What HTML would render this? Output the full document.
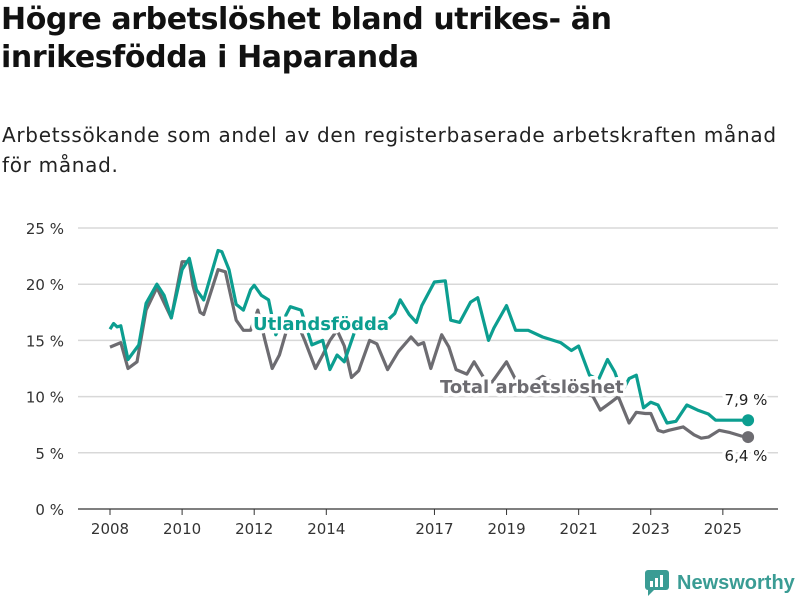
<!DOCTYPE html>
<html><head><meta charset="utf-8"><style>
body{margin:0;background:#fff;font-family:"DejaVu Sans","Liberation Sans",sans-serif;}
#wrap{position:relative;width:800px;height:600px;overflow:hidden;}
h1{position:absolute;left:1px;top:1px;margin:0;font-size:30px;line-height:38px;font-weight:bold;color:#111;width:660px;letter-spacing:-0.4px;}
.sub{position:absolute;left:2px;top:120px;font-size:20px;line-height:30px;color:#222;width:788px;letter-spacing:0.7px;}
svg{position:absolute;left:0;top:0;}
.logo{position:absolute;left:645px;top:570px;display:flex;align-items:center;color:#3a9c94;font-size:20px;font-weight:bold;font-family:"Liberation Sans",sans-serif;}
</style></head><body>
<div id="wrap">
<h1>Högre arbetslöshet bland utrikes- än inrikesfödda i Haparanda</h1>
<div class="sub">Arbetssökande som andel av den registerbaserade arbetskraften månad för månad.</div>
<svg id="chart" width="800" height="600"></svg>
<div class="logo">
<svg width="24" height="26" style="position:static;margin-right:8px"><rect x="0" y="0" width="24" height="20" rx="3" fill="#3a9c94"/><polygon points="3,20 9,20 3,26" fill="#3a9c94"/><rect x="5" y="11" width="3" height="6" fill="#fff"/><rect x="10" y="8" width="3" height="9" fill="#fff"/><rect x="15" y="5" width="3" height="12" fill="#fff"/></svg>Newsworthy</div>
</div>
<script>
const yTicks=[0,5,10,15,20,25];
const xTicks=[2008,2010,2012,2014,2017,2019,2021,2023,2025];
const fDates=[2008.0,2008.1,2008.2,2008.3,2008.5,2008.8,2009.0,2009.3,2009.5,2009.7,2010.0,2010.2,2010.4,2010.6,2010.8,2011.0,2011.1,2011.3,2011.5,2011.7,2011.9,2012.0,2012.2,2012.4,2012.6,2013.0,2013.3,2013.6,2013.9,2014.1,2014.3,2014.5,2014.8,2015.0,2015.3,2015.6,2015.9,2016.05,2016.3,2016.5,2016.65,2017.0,2017.3,2017.45,2017.7,2018.0,2018.2,2018.5,2018.65,2019.0,2019.25,2019.6,2020.0,2020.5,2020.8,2021.0,2021.3,2021.55,2021.8,2022.0,2022.2,2022.4,2022.6,2022.8,2023.0,2023.2,2023.45,2023.7,2024.0,2024.3,2024.6,2024.8,2025.0,2025.3,2025.6,2025.7];
const fVals=[16.0,16.5,16.2,16.3,13.3,14.6,18.3,20.0,19.0,17.0,21.3,22.3,19.5,18.6,20.8,23.0,22.9,21.3,18.2,17.7,19.5,19.9,19.0,18.6,15.5,18.0,17.7,14.6,15.0,12.4,13.7,13.1,15.9,17.0,16.0,16.5,17.4,18.6,17.3,16.6,18.1,20.2,20.3,16.8,16.6,18.4,18.8,15.0,16.1,18.1,15.9,15.9,15.3,14.8,14.1,14.5,11.9,11.5,13.3,12.2,10.4,11.6,11.9,9.0,9.5,9.25,7.65,7.8,9.25,8.8,8.45,7.9,7.9,7.9,7.9,7.9];
const tDates=[2008.0,2008.3,2008.5,2008.75,2009.0,2009.3,2009.7,2010.0,2010.2,2010.3,2010.5,2010.6,2011.0,2011.2,2011.5,2011.7,2011.9,2012.1,2012.3,2012.5,2012.7,2012.9,2013.2,2013.4,2013.7,2013.9,2014.1,2014.3,2014.5,2014.7,2014.9,2015.2,2015.4,2015.7,2016.0,2016.35,2016.55,2016.7,2016.9,2017.0,2017.2,2017.4,2017.6,2017.9,2018.1,2018.4,2018.6,2019.0,2019.3,2019.6,2020.0,2020.5,2021.0,2021.4,2021.6,2021.9,2022.1,2022.4,2022.6,2022.85,2023.0,2023.2,2023.35,2023.5,2023.9,2024.2,2024.4,2024.6,2024.9,2025.2,2025.5,2025.7];
const tVals=[14.4,14.8,12.5,13.1,17.7,19.7,17.0,22.0,22.0,19.9,17.5,17.3,21.3,21.1,16.8,15.9,15.9,17.7,15.0,12.5,13.7,15.9,16.5,15.0,12.5,13.7,15.0,15.9,14.5,11.7,12.3,15.0,14.7,12.4,14.0,15.3,14.6,14.8,12.5,13.5,15.5,14.4,12.4,12.0,13.1,11.5,11.3,13.1,11.2,11.0,11.8,10.8,10.6,10.0,8.8,9.5,10.0,7.65,8.6,8.5,8.5,7.0,6.85,7.0,7.3,6.6,6.3,6.4,7.0,6.8,6.5,6.4];
const ns='http://www.w3.org/2000/svg';
const svg=document.getElementById('chart');
const X=d=>110+(d-2008)*36.05;
const Y=v=>509-v*11.24;
function mk(t,a,p){const e=document.createElementNS(ns,t);for(const k in a)e.setAttribute(k,a[k]);(p||svg).appendChild(e);return e;}
yTicks.forEach(v=>{
 const l=mk('line',{x1:78,x2:778,y1:Y(v),y2:Y(v),stroke:v===0?'#333':'#d8d8d8','stroke-width':v===0?1.2:1.5});
 
 
 const t=mk('text',{x:64,y:Y(v)+6,'text-anchor':'end','font-size':15,fill:'#333'});t.textContent=v+' %';
 
 
});
xTicks.forEach(yr=>{
 const l=mk('line',{x1:X(yr),x2:X(yr),y1:509,y2:515,stroke:'#333'});
 
 
 const t=mk('text',{x:X(yr),y:534,'text-anchor':'middle','font-size':15,fill:'#333'});t.textContent=yr;
 
 
});
function line(ds,vs,c,name){
 const d=ds.map((x,i)=>(i?'L':'M')+X(x).toFixed(1)+' '+Y(vs[i]).toFixed(1)).join('');
 const p=mk('path',{d:d,fill:'none',stroke:c,'stroke-width':3.2,'stroke-linejoin':'round'});
 
 
 const n=ds.length-1;
 const dot=mk('circle',{cx:X(ds[n]),cy:Y(vs[n]),r:6,fill:c});
 
 
}
line(tDates,tVals,'#6d6c71','total-line');
line(fDates,fVals,'#0c9e90','foreign-born-line');
function lab(x,y,txt,c,w,name,anchor,halo){
 const t=mk('text',{x:x,y:y,'font-size':w?18:15,'font-weight':w?'bold':'normal',fill:c,'text-anchor':anchor||'start'});
 if(halo){t.setAttribute('stroke','#fff');t.setAttribute('stroke-width',7);t.setAttribute('paint-order','stroke');t.setAttribute('stroke-linejoin','round');}
 t.textContent=txt;
 
 
}
lab(253,330,'Utlandsfödda','#0c9e90',1,'label-foreign-born','start',1);
lab(440,393,'Total arbetslöshet','#6d6c71',1,'label-total','start',1);
const fl=fVals[fVals.length-1],tl=tVals[tVals.length-1];
lab(746,405,String(fl).replace('.',',')+' %','#222',0,'value-foreign-born-last','middle',1);
lab(746,461,String(tl).replace('.',',')+' %','#222',0,'value-total-last','middle',1);
</script>
</body></html>
